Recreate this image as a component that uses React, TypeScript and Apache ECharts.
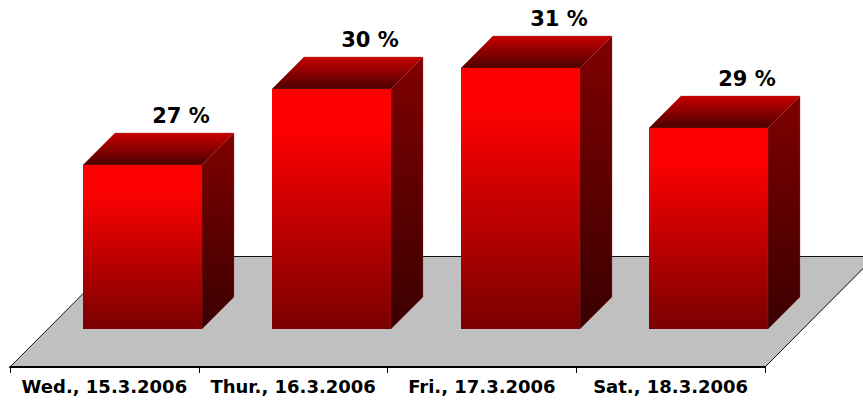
import React, { useEffect, useRef } from "react";
import * as echarts from "echarts";

const categories = ["Wed., 15.3.2006", "Thur., 16.3.2006", "Fri., 17.3.2006", "Sat., 18.3.2006"];
const values = [27.06, 30.1, 30.94, 28.54];
const BASE = 20.5;
const AXIS_BOTTOM = 18.98;
const AXIS_TOP = 33.5;

const vg = (stops: [number, string][]) =>
  new echarts.graphic.LinearGradient(0, 0, 0, 1, stops.map(([offset, color]) => ({ offset, color })));

export default function App() {
  const ref = useRef<HTMLDivElement>(null);
  useEffect(() => {
    const chart = echarts.init(ref.current!, null, { renderer: "svg" });
    const D = 32;
    const font = '"DejaVu Sans", Verdana, sans-serif';
    chart.setOption({
      animation: false,
      backgroundColor: "#fff",
      grid: { left: 10, top: 4, width: 755, height: 363 },
      xAxis: {
        type: "category",
        data: categories,
        axisLine: { show: true, lineStyle: { color: "#000", width: 2 } },
        axisTick: { show: true, interval: 0, length: 6, lineStyle: { color: "#000", width: 1 } },
        axisLabel: { color: "#000", fontFamily: font, fontWeight: "bold", fontSize: 18, margin: 10, interval: 0 },
        z: 5,
      },
      yAxis: { type: "value", min: AXIS_BOTTOM, max: AXIS_TOP, show: false, splitLine: { show: false } },
      series: [
        {
          type: "custom",
          clip: false,
          z: 1,
          silent: true,
          data: [[0, 0]],
          renderItem: (_p: any, api: any) => {
            const y0 = Math.round(api.coord([0, AXIS_BOTTOM])[1]);
            const x0 = 10;
            const x1 = 765;
            const depth = 110;
            return {
              type: "group",
              children: [
                {
                  type: "polygon",
                  shape: { points: [[x0, y0], [x1, y0], [x1 + depth, y0 - depth], [x0 + depth, y0 - depth]] },
                  style: { fill: "#c0c0c0", stroke: "none" },
                },
                {
                  type: "polyline",
                  shape: { points: [[x0, y0], [x0 + depth, y0 - depth - 0.5], [x1 + depth, y0 - depth - 0.5], [x1, y0]] },
                  style: { fill: "none", stroke: "#111", lineWidth: 1 },
                },
              ],
            };
          },
        },
        {
          type: "custom",
          clip: false,
          z: 3,
          data: values.map((v, i) => [i, v]),
          renderItem: (_p: any, api: any) => {
            const c = api.coord([api.value(0), api.value(1)]);
            const b = api.coord([api.value(0), BASE]);
            const l = Math.round(c[0] - 21.2);
            const r = l + 119;
            const top = Math.round(c[1]);
            const bot = Math.round(b[1]);
            const edge = "rgba(170,50,50,0.55)";
            return {
              type: "group",
              children: [
                {
                  type: "rect",
                  shape: { x: l, y: top, width: r - l, height: bot - top },
                  style: { fill: vg([[0, "#ff0000"], [0.15, "#ff0000"], [1, "#7a0000"]]) },
                },
                {
                  type: "polygon",
                  shape: { points: [[r, top], [r + D, top - D], [r + D, bot - D], [r, bot]] },
                  style: { fill: vg([[0, "#800000"], [1, "#3a0000"]]), stroke: edge, lineWidth: 0.6 },
                },
                {
                  type: "polygon",
                  shape: { points: [[l, top], [l + D, top - D], [r + D, top - D], [r, top]] },
                  style: { fill: vg([[0, "#c80000"], [1, "#4c0000"]]), stroke: edge, lineWidth: 0.6 },
                },
                {
                  type: "rect",
                  shape: { x: l, y: top, width: r - l, height: 3 },
                  style: { fill: "#ff0000" },
                },
                {
                  type: "text",
                  style: {
                    text: Math.round(api.value(1)) + " %",
                    x: r - 21,
                    y: top - D - 7,
                    fill: "#000",
                    font: `bold 21px ${font}`,
                    textAlign: "center",
                    textVerticalAlign: "bottom",
                  },
                },
              ],
            };
          },
        },
      ],
    });
    return () => chart.dispose();
  }, []);
  return <div ref={ref} style={{ position: "fixed", left: 0, top: 0, width: 863, height: 403 }} />;
}
